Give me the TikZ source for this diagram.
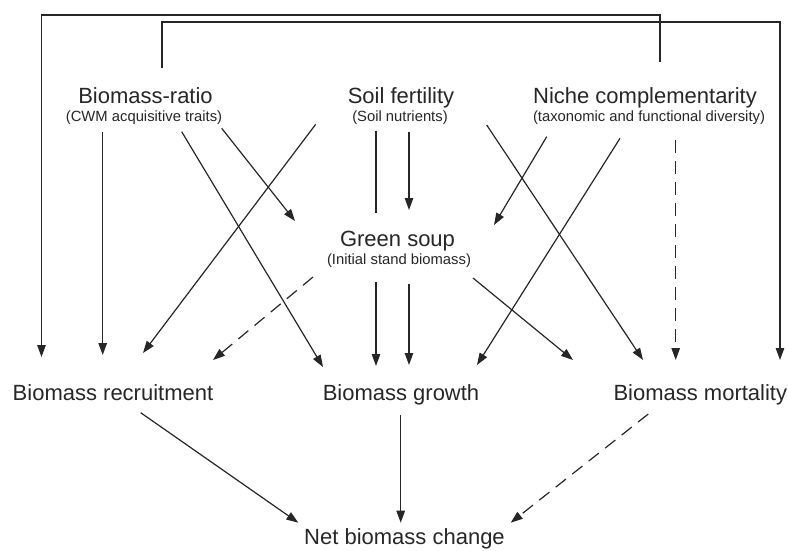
\documentclass[tikz,border=0pt]{standalone}
\usepackage{fontspec}
\setmainfont{Liberation Sans}
\usetikzlibrary{arrows.meta}
\begin{document}
\begin{tikzpicture}[x=1pt,y=-1pt,
  title/.style={anchor=base,inner sep=0pt,font=\fontsize{22}{26}\selectfont,text=black!85},
  sub/.style={anchor=base,inner sep=0pt,font=\fontsize{14.8}{17}\selectfont,text=black!85},
  arr/.style={draw=black!85,line width=1.2pt,-{Triangle[length=12pt,width=8.5pt]}},
  dsh/.style={arr,dash pattern=on 13pt off 8pt}]
\path[use as bounding box] (0,0) rectangle (788,550);

% connector end points
\coordinate (nctop) at (660,62);
\coordinate (recL) at (41.5,357);
\coordinate (brtop) at (162,68);
\coordinate (morR) at (780,360);
\coordinate (brA) at (102.7,132);   \coordinate (recB) at (102.7,355);
\coordinate (brB) at (181.7,131.7); \coordinate (groA) at (323,367);
\coordinate (brC) at (221.7,128.3); \coordinate (gsA) at (295,221);
\coordinate (sfA) at (315.7,124.3); \coordinate (recC) at (143,353);
\coordinate (gsB) at (313,277);     \coordinate (recD) at (213,360);
\coordinate (sfB) at (376,130.7);   \coordinate (groB) at (376,366);
\coordinate (sfC) at (409,131.7);   \coordinate (gsC) at (409,210);
\coordinate (gsD) at (409,284);     \coordinate (groC) at (409,365);
\coordinate (gsE) at (473,278);     \coordinate (morA) at (573,360);
\coordinate (sfD) at (486.7,125);   \coordinate (morB) at (643,360);
\coordinate (ncA) at (546.7,136.7); \coordinate (gsF) at (494,225);
\coordinate (ncB) at (620,138.3);   \coordinate (groD) at (477,365);
\coordinate (ncC) at (675.7,140);   \coordinate (morC) at (675.7,360);
\coordinate (recE) at (140.7,412.7); \coordinate (netA) at (298.3,522.7);
\coordinate (groE) at (400.7,415);   \coordinate (netB) at (400.7,522.7);
\coordinate (morD) at (648.3,414);   \coordinate (netC) at (510.7,522.7);

% long frame connectors
\draw[arr] (nctop) -- (nctop |- 0,15) -| (recL);
\draw[arr] (brtop) -- (brtop |- 0,22) -| (morR);

% connectors
\draw[arr] (brA) -- (recB);
\draw[arr] (brB) -- (groA);
\draw[arr] (brC) -- (gsA);
\draw[arr] (sfA) -- (recC);
\draw[dsh] (gsB) -- (recD);
\draw[arr] (sfB) -- (groB);
\draw[arr] (sfC) -- (gsC);
\draw[arr] (gsD) -- (groC);
\draw[arr] (gsE) -- (morA);
\draw[arr] (sfD) -- (morB);
\draw[arr] (ncA) -- (gsF);
\draw[arr] (ncB) -- (groD);
\draw[dsh] (ncC) -- (morC);
\draw[arr] (recE) -- (netA);
\draw[arr] (groE) -- (netB);
\draw[dsh] (morD) -- (netC);

% white patch behind the Green soup label
\fill[white] (368,213) rectangle (384,282);

% labels
\node[title] (br) at (145.5,103) {Biomass-ratio};
\node[sub] (brs) at (144,121.5) {(CWM acquisitive traits)};
\node[title] (sf) at (401,103) {Soil fertility};
\node[sub] (sfs) at (400,121.5) {(Soil nutrients)};
\node[title] (nc) at (645,103) {Niche complementarity};
\node[sub] (ncs) at (649,121.5) {(taxonomic and functional diversity)};
\node[title] (gs) at (397.5,246.7) {Green soup};
\node[sub] (gss) at (399,264) {(Initial stand biomass)};
\node[title] (rec) at (113,400.7) {Biomass recruitment};
\node[title] (gro) at (401,400.7) {Biomass growth};
\node[title] (mor) at (700.3,400.7) {Biomass mortality};
\node[title] (net) at (404.5,544.5) {Net biomass change};
\end{tikzpicture}
\end{document}
